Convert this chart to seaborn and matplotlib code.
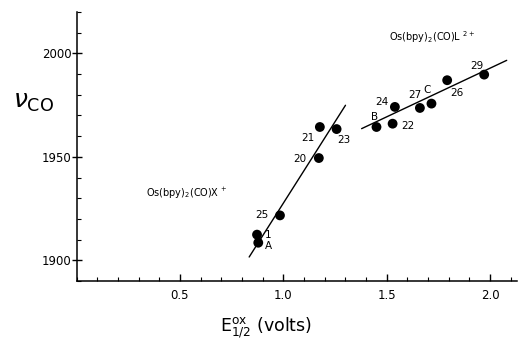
import matplotlib
matplotlib.use("Agg")
import matplotlib.pyplot as plt
import seaborn as sns
import pandas as pd
from matplotlib.ticker import MultipleLocator, FormatStrFormatter

# ---- data ----
x_series_labels = ["1", "A", "25", "20", "21", "23"]
x_series_e = [0.873, 0.879, 0.984, 1.172, 1.177, 1.258]
x_series_nu = [1912.4, 1908.5, 1921.7, 1949.4, 1964.4, 1963.4]

l_series_labels = ["B", "22", "24", "27", "C", "26", "29"]
l_series_e = [1.451, 1.529, 1.540, 1.661, 1.717, 1.793, 1.972]
l_series_nu = [1964.4, 1966.0, 1974.1, 1973.6, 1975.7, 1987.0, 1989.7]

# fitted lines (end points)
fit_x_e = [0.835, 1.301]
fit_x_nu = [1901.6, 1974.9]
fit_l_e = [1.379, 2.081]
fit_l_nu = [1963.6, 1996.6]

x_ticks = [0.5, 1.0, 1.5, 2.0]
y_ticks = [1900, 1950, 2000]

# ---- styling / layout ----
sns.set_theme(style="ticks")
plt.rcParams["font.family"] = ["DejaVu Sans"]
plt.rcParams["text.color"] = "black"
plt.rcParams["axes.labelcolor"] = "black"

fig = plt.figure(figsize=(5.21, 3.40), dpi=100)
ax = fig.add_axes([0.147, 0.1735, 0.845, 0.7915])

pts = pd.DataFrame({
    "E": x_series_e + l_series_e,
    "nu": x_series_nu + l_series_nu,
    "label": x_series_labels + l_series_labels,
})
sns.scatterplot(data=pts, x="E", y="nu", ax=ax, color="black", s=50,
                edgecolor="none", zorder=3)
sns.lineplot(x=fit_x_e, y=fit_x_nu, ax=ax, color="black", lw=1.0)
sns.lineplot(x=fit_l_e, y=fit_l_nu, ax=ax, color="black", lw=1.0)

# label offsets in pixels (dx, dy)
offsets = {"1": (11, 0), "A": (10, -3), "25": (-18, 0), "20": (-19, -1),
           "21": (-12, -11), "23": (7, -11), "B": (-2, 10), "22": (15, -2),
           "24": (-13, 5), "27": (-5, 13), "C": (-4, 14), "26": (10, -13),
           "29": (-7, 9)}
for e, nu, lab in zip(pts["E"], pts["nu"], pts["label"]):
    dx, dy = offsets[lab]
    ax.annotate(lab, (e, nu), xytext=(dx, dy), textcoords="offset pixels",
                ha="center", va="center", fontsize=7.5, color="black")

ax.text(0.337, 1932.5, r"Os(bpy)$_2$(CO)X$^{\,+}$", fontsize=7, va="center",
        ha="left", color="black")
ax.text(1.51, 2007.7, r"Os(bpy)$_2$(CO)L$^{\;\;2+}$", fontsize=7,
        va="center", ha="left", color="black")

ax.set_xlim(0, 2.13)
ax.set_ylim(1890, 2020)
ax.set_xticks(x_ticks)
ax.set_yticks(y_ticks)
ax.xaxis.set_minor_locator(MultipleLocator(0.1))
ax.yaxis.set_minor_locator(MultipleLocator(10))
ax.xaxis.set_major_formatter(FormatStrFormatter("%.1f"))
ax.tick_params(axis="x", which="major", direction="in", length=5, width=1,
               labelsize=8.5, pad=6, colors="black")
ax.tick_params(axis="x", which="minor", direction="in", length=3, width=0.8,
               colors="black")
ax.tick_params(axis="y", which="major", direction="inout", length=7, width=1,
               labelsize=8.5, pad=0, colors="black")
ax.tick_params(axis="y", which="minor", direction="in", length=3, width=0.8,
               colors="black")
for s in ["top", "right"]:
    ax.spines[s].set_visible(False)
for s in ["left", "bottom"]:
    ax.spines[s].set_linewidth(1.1)
    ax.spines[s].set_color("black")

ax.set_xlabel(r"E$^{\mathrm{ox}}_{1/2}$ (volts)", fontsize=12.5,
              color="black")
ax.xaxis.label.set_va("center")
ax.xaxis.set_label_coords(0.43, -0.175)
ax.set_ylabel("")
fig.text(0.025, 0.70, r"$\nu_{\mathrm{CO}}$", fontsize=18, ha="left",
         va="center", color="black")

fig.savefig("out.png", dpi=100, facecolor="white")
